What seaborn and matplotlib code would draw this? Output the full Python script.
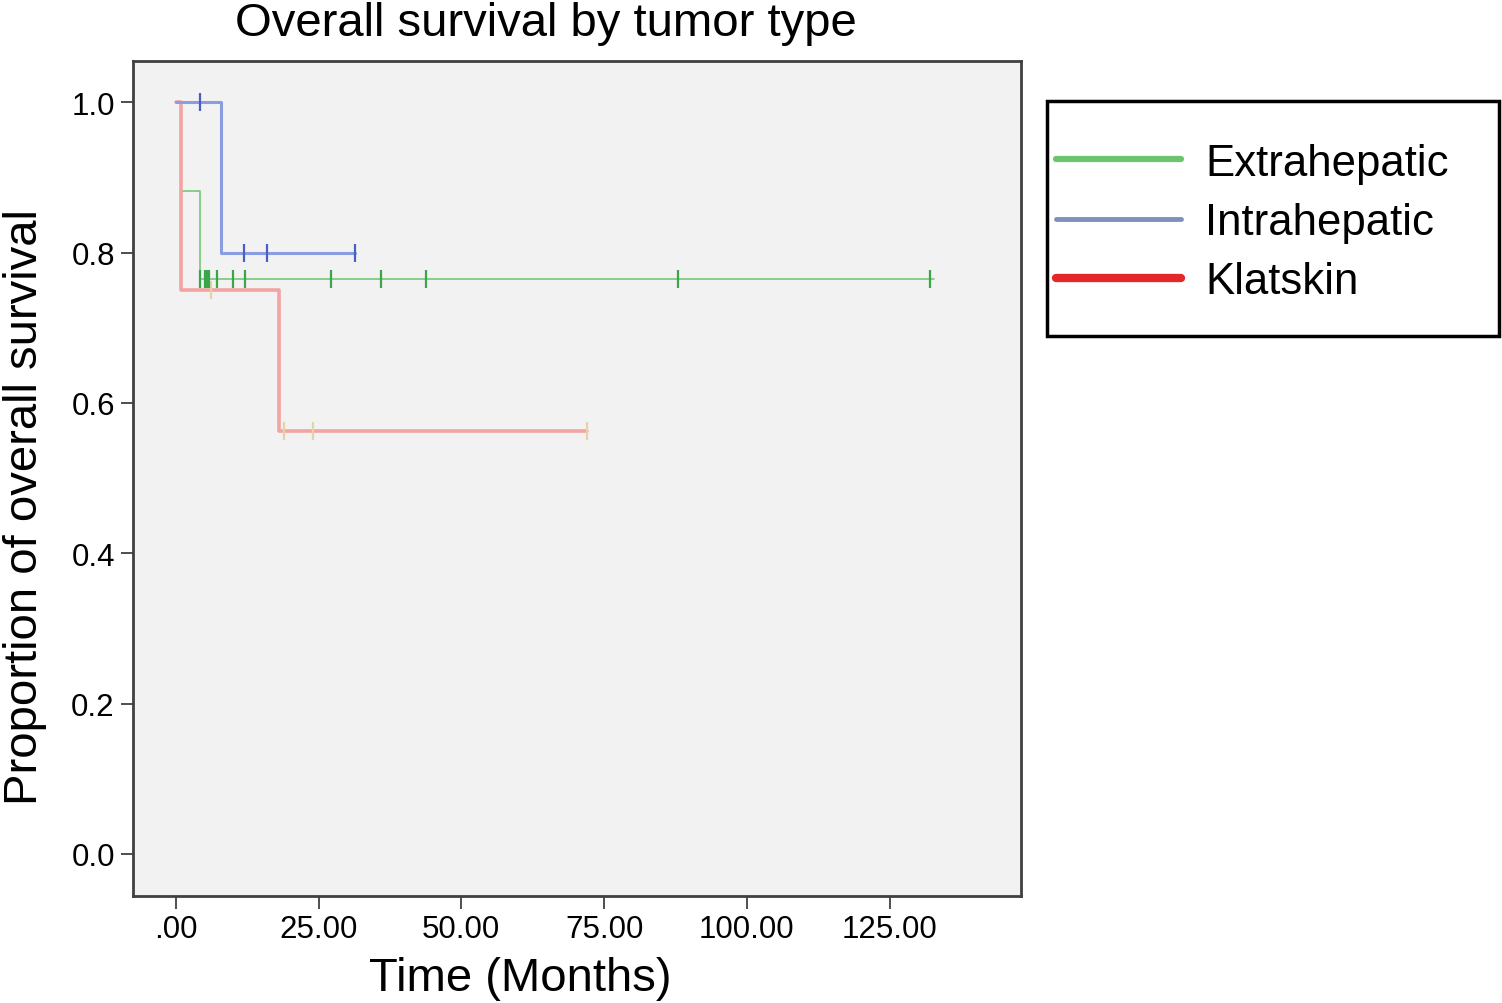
import numpy as np
import pandas as pd
import seaborn as sns
import matplotlib.pyplot as plt
from matplotlib.lines import Line2D
from matplotlib.patches import Rectangle

# Kaplan-Meier step points (time in months, survival proportion)
groups = ["Extrahepatic", "Intrahepatic", "Klatskin"]

extra_time = [1.2, 4.2, 132.8]
extra_surv = [0.882, 0.765, 0.765]
extra_cens = [4.2, 5.1, 5.5, 5.9, 7.2, 10.0, 12.2, 27.1, 36.0, 43.9, 87.9, 132.0]

intra_time = [0.0, 8.0, 31.3]
intra_surv = [1.0, 0.8, 0.8]
intra_cens_t = [4.2, 12.0, 16.0, 31.3]
intra_cens_s = [1.0, 0.8, 0.8, 0.8]

klat_time = [0.0, 1.0, 18.0, 72.0]
klat_surv = [1.0, 0.75, 0.5625, 0.5625]
klat_cens_t = [6.1, 19.0, 24.0, 72.0]
klat_cens_s = [0.75, 0.5625, 0.5625, 0.5625]

xticks = [0, 25, 50, 75, 100, 125]
xtick_labels = [".00", "25.00", "50.00", "75.00", "100.00", "125.00"]
yticks = [0.0, 0.2, 0.4, 0.6, 0.8, 1.0]

line_col = {"Extrahepatic": "#6cc46c", "Intrahepatic": "#8a9de0", "Klatskin": "#f4a3a3"}
cens_col = {"Extrahepatic": "#3aa54a", "Intrahepatic": "#4a5fc4", "Klatskin": "#e6d2a6"}
line_w = {"Extrahepatic": 1.1, "Intrahepatic": 2.2, "Klatskin": 2.6}
leg_col = {"Extrahepatic": "#6cc46c", "Intrahepatic": "#7f91b8", "Klatskin": "#e22828"}
leg_w = {"Extrahepatic": 4.5, "Intrahepatic": 3.5, "Klatskin": 6.0}

sns.set_style("white")
plt.rcParams['font.family'] = ['Liberation Sans', 'DejaVu Sans']
plt.rcParams['text.color'] = 'black'
plt.rcParams['axes.labelcolor'] = 'black'
plt.rcParams['xtick.labelcolor'] = 'black'
plt.rcParams['ytick.labelcolor'] = 'black'

fig = plt.figure(figsize=(15.02, 10.04), dpi=100)
ax = fig.add_axes([0.0885, 0.1066, 0.5913, 0.8317])
ax.set_facecolor("#f2f2f2")

curves = pd.concat([
    pd.DataFrame({"time": extra_time, "surv": extra_surv, "group": "Extrahepatic"}),
    pd.DataFrame({"time": intra_time, "surv": intra_surv, "group": "Intrahepatic"}),
    pd.DataFrame({"time": klat_time, "surv": klat_surv, "group": "Klatskin"}),
])
cens = pd.concat([
    pd.DataFrame({"time": extra_cens, "surv": [0.765] * len(extra_cens), "group": "Extrahepatic"}),
    pd.DataFrame({"time": intra_cens_t, "surv": intra_cens_s, "group": "Intrahepatic"}),
    pd.DataFrame({"time": klat_cens_t, "surv": klat_cens_s, "group": "Klatskin"}),
])

for g in ["Klatskin", "Extrahepatic", "Intrahepatic"]:
    d = curves[curves.group == g]
    sns.lineplot(data=d, x="time", y="surv", ax=ax, color=line_col[g],
                 linewidth=line_w[g], drawstyle="steps-post", sort=False,
                 estimator=None, legend=False, zorder=2)
    c = cens[cens.group == g]
    sns.scatterplot(data=c, x="time", y="surv", ax=ax, marker="|", s=150,
                    color=cens_col[g], linewidth=1.6, legend=False, zorder=3)

ax.set_xlim(-7.5, 148)
ax.set_ylim(-0.056, 1.055)
ax.set_xticks(xticks)
ax.set_xticklabels(xtick_labels)
ax.set_yticks(yticks)
ax.set_yticklabels([f"{v:.1f}" for v in yticks])
ax.tick_params(axis="both", direction="out", length=9, width=1.3, color="#404040",
               labelsize=22.5, pad=4, bottom=True, left=True)
for s in ax.spines.values():
    s.set_color("#404040")
    s.set_linewidth(2)

ax.set_xlabel("Time (Months)", fontsize=34)
ax.xaxis.set_label_coords(0.436, -0.072)
ax.set_ylabel("Proportion of overall survival", fontsize=34)
ax.yaxis.set_label_coords(-0.097, 0.467)
ax.set_title("Overall survival by tumor type", fontsize=34, x=0.465, pad=19)

# legend box
fig.patches.append(Rectangle((0.697, 0.664), 0.3013, 0.234, transform=fig.transFigure,
                             fill=False, edgecolor="black", linewidth=2.5))
handles = [Line2D([0], [0], color=leg_col[g], linewidth=leg_w[g]) for g in groups]
fig.legend(handles, groups, loc="upper left", bbox_to_anchor=(0.703, 0.857),
           frameon=False, fontsize=31.5, handlelength=2.86, handletextpad=0.55,
           labelspacing=0.42, borderaxespad=0, borderpad=0)

fig.savefig("out.png", dpi=100)
